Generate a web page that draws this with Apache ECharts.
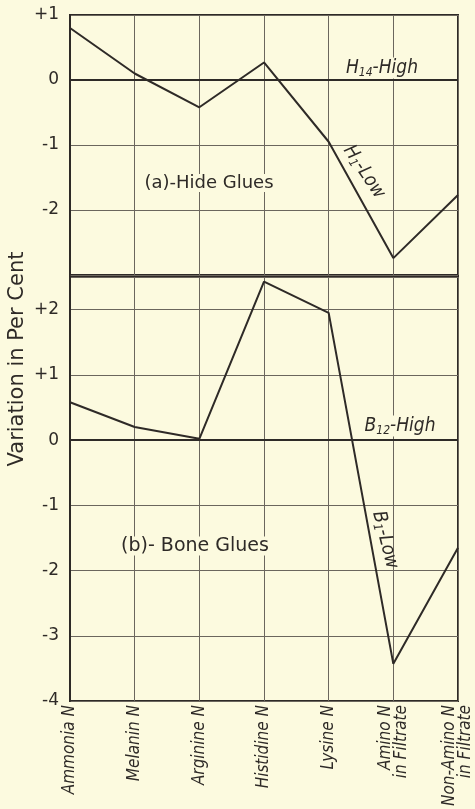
<!DOCTYPE html>
<html>
<head>
<meta charset="utf-8">
<script src="https://cdn.jsdelivr.net/npm/echarts@6/dist/echarts.min.js"></script>
<style>
  html, body { margin: 0; padding: 0; background: #fcfadf; }
  #chart { width: 475px; height: 809px; }
</style>
</head>
<body>
<div id="chart"></div>
<script>
// categories along the bottom
const categories = ['Ammonia N', 'Melanin N', 'Arginine N', 'Histidine N', 'Lysine N', 'Amino N\nin Filtrate', 'Non-Amino N\nin Filtrate'];

// (a) hide glues, H1-Low relative to H14-High
const hideLow = [0.8, 0.1, -0.42, 0.27, -0.95, -2.74, -1.77];
// (b) bone glues, B1-Low relative to B12-High
const boneLow = [0.58, 0.2, 0.02, 2.43, 1.95, -3.43, -1.65];

// tick labels
const hideTickValues = [1, 0, -1, -2];
const hideTickLabels = ['+1', '0', '-1', '-2'];
const boneTickValues = [2, 1, 0, -1, -2, -3, -4];
const boneTickLabels = ['+2', '+1', '0', '-1', '-2', '-3', '-4'];

const bg = '#fcfadf';
const ink = '#2e2a27';
const gridInk = '#6b665d';
const font = '"DejaVu Sans", "Noto Sans", sans-serif';
const condFont = '"DejaVu Sans Condensed", "DejaVu Sans", sans-serif';

const chart = echarts.init(document.getElementById('chart'), null, { renderer: 'canvas' });

function tickFormatter(values, labels) {
    return v => {
        const i = values.indexOf(v);
        return i >= 0 ? labels[i] : '';
    };
}

function yAxisFor(gridIndex, min, max, values, labels) {
    return {
        type: 'value', gridIndex, min, max, interval: 1,
        axisLine: { show: true, lineStyle: { color: ink, width: 2 } },
        axisTick: { show: false },
        axisLabel: {
            formatter: tickFormatter(values, labels),
            color: ink, fontSize: 17, fontFamily: font, margin: 11
        },
        splitLine: { show: true, lineStyle: { color: gridInk, width: 1 } }
    };
}

function xAxisFor(gridIndex, showLabels) {
    return {
        type: 'category', gridIndex, data: categories, boundaryGap: false,
        axisLine: { show: false },
        axisTick: { show: false },
        axisLabel: {
            show: showLabels, rotate: 90, interval: 0, margin: 4,
            color: ink, fontSize: 17, fontStyle: 'italic', fontFamily: condFont, lineHeight: 16
        },
        splitLine: { show: true, lineStyle: { color: gridInk, width: 1 } }
    };
}

const zeroLine = {
    silent: true, symbol: 'none', label: { show: false },
    lineStyle: { color: ink, type: 'solid', width: 2 },
    data: [{ yAxis: 0 }]
};

function note(text, x, y, size, rotation, rich, fill) {
    return {
        type: 'text', x, y, rotation: rotation || 0, z: 20,
        style: {
            text, fill: ink, font: `${size}px ${font}`,
            align: 'center', verticalAlign: 'middle',
            backgroundColor: fill === false ? 'transparent' : bg, rich
        }
    };
}

function italicRich(fill) {
    const back = fill === false ? 'transparent' : bg;
    return {
        a: { fontSize: 19, fontStyle: 'italic', fontFamily: condFont, fill: ink, backgroundColor: back },
        s: { fontSize: 12, fontStyle: 'italic', fontFamily: condFont, fill: ink, padding: [9, 0, 0, 0], backgroundColor: back }
    };
}

chart.setOption({
    backgroundColor: bg,
    animation: false,
    grid: [
        { left: 70, right: 17, top: 15, height: 260, show: true, borderColor: ink, borderWidth: 2, backgroundColor: 'transparent' },
        { left: 70, right: 17, top: 277, height: 426, show: true, borderColor: ink, borderWidth: 2, backgroundColor: 'transparent' }
    ],
    xAxis: [xAxisFor(0, false), xAxisFor(1, true)],
    yAxis: [
        yAxisFor(0, -3, 1, hideTickValues, hideTickLabels),
        yAxisFor(1, -4, 2.5, boneTickValues, boneTickLabels)
    ],
    series: [
        {
            name: 'H1-Low', type: 'line', xAxisIndex: 0, yAxisIndex: 0, data: hideLow,
            symbol: 'none', lineStyle: { color: ink, width: 2 }, markLine: zeroLine, z: 5
        },
        {
            name: 'B1-Low', type: 'line', xAxisIndex: 1, yAxisIndex: 1, data: boneLow,
            symbol: 'none', lineStyle: { color: ink, width: 2 }, markLine: zeroLine, z: 5
        }
    ],
    graphic: [
        {
            type: 'text', x: 18, y: 359, rotation: Math.PI / 2, z: 20,
            style: { text: 'Variation in Per Cent', fill: ink, font: `21px ${font}`, align: 'center', verticalAlign: 'middle' }
        },
        note('(a)-Hide Glues', 209, 183, 18),
        note('(b)- Bone Glues', 195, 546, 19),
        note('{a|H}{s|14}{a|-High}', 382, 68, 19, 0, italicRich()),
        note('{a|B}{s|12}{a|-High}', 400, 426, 19, 0, italicRich()),
        note('{a|H}{s|1}{a|-Low}', 364, 172, 19, -0.98, italicRich(false), false),
        note('{a|B}{s|1}{a|-Low}', 385, 540, 19, -1.32, italicRich(false), false)
    ]
});
</script>
</body>
</html>
